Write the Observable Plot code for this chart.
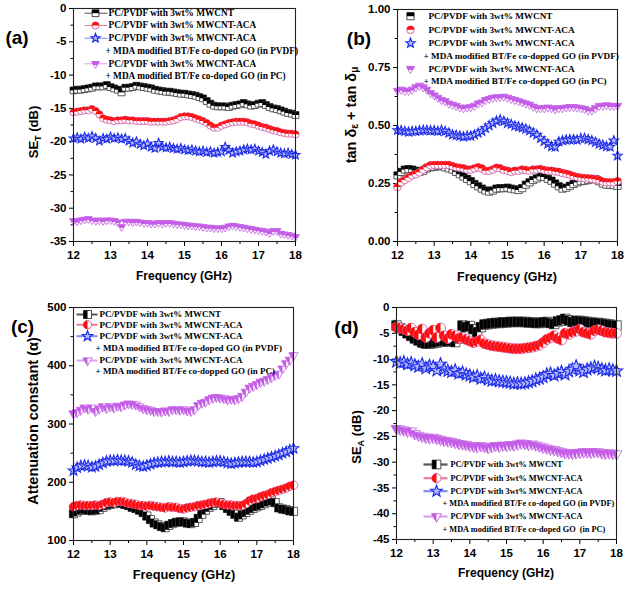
<!DOCTYPE html>
<html><head><meta charset="utf-8">
<script src="https://cdn.jsdelivr.net/npm/d3@7"></script>
<script src="https://cdn.jsdelivr.net/npm/@observablehq/plot@0.6"></script>
<style>
body{margin:0;background:#fff;}
#root{position:relative;width:627px;height:590px;overflow:hidden;font-family:"Liberation Sans",Arial,sans-serif;background:#fff;}
.pnl{position:absolute;}
.lbl{position:absolute;transform:translate(-50%,-50%);white-space:nowrap;font-weight:bold;color:#000;line-height:1;}
.rot{transform:translate(-50%,-50%) rotate(-90deg);}
.lbl sub{font-size:70%;vertical-align:-0.25em;}
</style></head><body><div id="root"></div><script>
// ---------- data ----------
const freqGHz = [12.0,12.1,12.2,12.3,12.4,12.5,12.6,12.7,12.8,12.9,13.0,13.1,13.2,13.3,13.4,13.5,13.6,13.7,13.8,13.9,14.0,14.1,14.2,14.3,14.4,14.5,14.6,14.7,14.8,14.9,15.0,15.1,15.2,15.3,15.4,15.5,15.6,15.7,15.8,15.9,16.0,16.1,16.2,16.3,16.4,16.5,16.6,16.7,16.8,16.9,17.0,17.1,17.2,17.3,17.4,17.5,17.6,17.7,17.8,17.9,18.0];

// (a) SE_T (dB)
const aMWCNT = [-12.3,-12.2,-12.2,-12.1,-12.0,-11.9,-11.7,-11.7,-11.7,-11.5,-11.8,-12.0,-12.2,-12.6,-11.9,-11.9,-11.8,-11.6,-11.7,-11.8,-11.9,-12.0,-12.2,-12.3,-12.4,-12.5,-12.5,-12.6,-12.7,-12.8,-12.8,-12.9,-13.0,-13.1,-13.3,-13.5,-13.9,-14.3,-14.6,-14.7,-14.7,-14.7,-14.8,-14.6,-14.5,-14.4,-14.2,-14.4,-14.6,-14.5,-14.3,-14.2,-14.5,-14.8,-15.0,-15.1,-15.3,-15.5,-15.7,-15.8,-16.0];
const aACA = [-15.6,-15.5,-15.4,-15.3,-15.3,-15.1,-15.4,-15.9,-16.5,-16.7,-16.8,-16.9,-16.8,-16.8,-16.7,-16.8,-16.8,-16.9,-16.9,-16.9,-16.9,-17.0,-17.0,-17.0,-17.0,-17.0,-16.9,-16.8,-16.6,-16.3,-16.2,-16.2,-16.3,-16.5,-16.7,-16.9,-17.2,-17.6,-17.9,-17.9,-17.6,-17.4,-17.2,-17.1,-17.0,-17.0,-17.0,-17.1,-17.3,-17.4,-17.6,-17.8,-17.9,-18.1,-18.3,-18.4,-18.6,-18.7,-18.8,-18.8,-18.9];
const aPVDF = [-19.5,-19.4,-19.6,-19.3,-19.5,-19.2,-19.5,-19.9,-19.5,-19.6,-19.3,-19.5,-19.4,-19.6,-19.5,-19.9,-20.2,-20.0,-20.4,-20.6,-20.3,-20.8,-21.0,-20.2,-20.8,-20.9,-20.8,-21.0,-21.1,-21.0,-21.2,-21.3,-21.2,-21.4,-21.5,-21.4,-21.6,-21.5,-21.7,-21.6,-21.5,-20.8,-21.3,-21.7,-21.5,-21.4,-21.2,-21.1,-21.2,-21.1,-21.4,-21.6,-21.9,-21.4,-21.2,-21.5,-21.7,-21.8,-21.7,-21.9,-22.0];
const aPC = [-31.9,-32.0,-31.8,-31.7,-31.6,-31.8,-31.9,-31.8,-31.9,-31.8,-31.8,-31.9,-32.1,-32.8,-32.0,-32.0,-32.1,-32.0,-32.1,-32.2,-32.2,-32.3,-32.3,-32.2,-32.3,-32.2,-32.2,-32.3,-32.4,-32.4,-32.5,-32.6,-32.6,-32.7,-32.7,-32.8,-32.9,-32.9,-33.0,-33.0,-33.0,-32.9,-32.7,-32.6,-32.7,-32.8,-32.9,-33.0,-33.1,-33.2,-33.3,-33.4,-33.5,-33.7,-33.4,-33.4,-33.8,-33.9,-34.0,-34.1,-34.3];

// (b) tan δε + tan δμ
const bMWCNT = [0.285,0.30,0.31,0.312,0.31,0.305,0.30,0.305,0.315,0.32,0.322,0.325,0.325,0.32,0.315,0.31,0.30,0.29,0.28,0.27,0.26,0.248,0.238,0.228,0.22,0.215,0.22,0.228,0.23,0.23,0.232,0.228,0.225,0.222,0.23,0.245,0.255,0.265,0.272,0.28,0.278,0.27,0.262,0.25,0.238,0.228,0.232,0.24,0.248,0.255,0.26,0.262,0.265,0.27,0.268,0.26,0.25,0.245,0.245,0.243,0.24];
const bACA = [0.235,0.255,0.265,0.275,0.285,0.29,0.298,0.31,0.32,0.328,0.33,0.33,0.33,0.33,0.33,0.325,0.32,0.318,0.315,0.31,0.31,0.315,0.32,0.315,0.305,0.305,0.31,0.318,0.315,0.308,0.305,0.30,0.305,0.305,0.31,0.308,0.305,0.31,0.31,0.312,0.308,0.305,0.305,0.302,0.30,0.295,0.292,0.288,0.282,0.278,0.275,0.273,0.272,0.27,0.268,0.265,0.258,0.255,0.255,0.255,0.26];
const bPVDF = [0.48,0.478,0.475,0.472,0.475,0.475,0.478,0.48,0.48,0.478,0.478,0.475,0.48,0.475,0.468,0.46,0.458,0.455,0.452,0.455,0.455,0.46,0.468,0.475,0.488,0.50,0.51,0.52,0.525,0.518,0.51,0.505,0.498,0.495,0.49,0.485,0.478,0.468,0.46,0.445,0.432,0.42,0.41,0.408,0.43,0.435,0.438,0.44,0.44,0.438,0.445,0.445,0.44,0.435,0.428,0.42,0.415,0.41,0.408,0.435,0.37];
const bPC = [0.65,0.655,0.65,0.65,0.655,0.665,0.672,0.665,0.655,0.64,0.63,0.62,0.61,0.605,0.595,0.59,0.585,0.578,0.575,0.578,0.58,0.585,0.595,0.60,0.61,0.615,0.62,0.622,0.622,0.625,0.62,0.615,0.61,0.605,0.60,0.595,0.59,0.582,0.575,0.575,0.575,0.578,0.575,0.57,0.575,0.575,0.578,0.58,0.58,0.578,0.575,0.572,0.565,0.565,0.575,0.585,0.585,0.588,0.585,0.585,0.585];

// (c) attenuation constant α
const cMWCNT = [146,149,152,153,152,151,152,153,157,160,162,163,165,164,162,160,157,155,152,148,142,136,130,127,124,122,126,129,131,132,132,130,129,131,138,145,152,157,160,164,165,160,155,150,145,140,144,148,152,155,158,160,163,166,168,165,156,154,153,151,150];
const cACA = [158,160,161,160,160,160,161,160,162,165,166,165,167,167,166,164,163,162,160,160,159,160,159,158,157,156,158,157,157,155,154,156,157,158,160,161,162,164,165,166,164,162,161,161,160,160,160,163,168,171,172,175,177,179,182,184,186,188,190,193,195];
const cPVDF = [220,225,228,229,228,226,227,230,233,236,237,237,238,237,237,236,234,230,228,227,229,231,233,234,235,235,236,235,235,234,235,236,237,237,236,235,235,234,235,236,236,235,233,232,233,234,235,235,235,234,235,237,239,241,243,245,247,250,252,255,258];
const cPC = [318,320,324,328,326,328,322,326,330,327,330,328,331,330,333,335,334,333,330,327,325,324,322,322,321,323,322,325,325,324,325,323,322,325,332,336,338,342,345,346,345,344,342,343,342,344,348,355,362,365,368,372,374,377,380,384,386,395,404,410,418];

// (d) SE_A (dB)
const dMWCNT = [-3.5,-4.0,-4.5,-5.0,-5.5,-6.0,-6.4,-6.8,-7.0,-7.0,-6.9,-6.8,-6.6,-6.5,-6.6,-6.5,-6.7,-6.0,-3.5,-3.8,-3.6,-4.2,-4.8,-3.8,-3.3,-3.2,-3.1,-3.0,-3.0,-2.9,-2.9,-2.8,-2.8,-2.8,-2.8,-2.8,-2.9,-2.9,-3.0,-3.0,-2.9,-2.8,-3.0,-3.2,-2.7,-2.5,-2.2,-2.5,-2.8,-2.6,-2.6,-2.7,-2.8,-2.9,-3.0,-3.0,-3.1,-3.2,-3.3,-3.4,-3.5];
const dACA = [-3.8,-4.0,-4.2,-4.5,-4.0,-4.8,-5.3,-4.2,-5.8,-5.0,-4.4,-5.8,-4.0,-5.5,-6.0,-5.2,-5.5,-6.0,-5.8,-6.2,-6.5,-6.8,-6.6,-6.3,-7.0,-7.2,-7.4,-7.5,-7.6,-7.7,-7.8,-7.9,-8.0,-8.0,-8.0,-7.9,-7.8,-7.7,-7.5,-7.3,-6.8,-6.2,-5.9,-5.5,-6.0,-6.3,-5.0,-5.2,-4.8,-4.6,-4.2,-4.8,-5.0,-5.2,-4.5,-4.3,-4.5,-4.8,-4.9,-5.0,-5.0];
const dPVDF = [-10.5,-10.8,-10.6,-11.0,-10.8,-11.2,-11.5,-11.0,-11.8,-11.3,-11.5,-12.2,-11.0,-12.0,-12.3,-12.5,-12.2,-12.8,-12.6,-13.0,-13.2,-13.5,-13.3,-13.8,-13.6,-14.0,-14.2,-14.1,-14.3,-14.4,-14.5,-14.6,-14.8,-14.7,-14.8,-14.7,-14.5,-14.3,-14.0,-13.8,-13.5,-13.0,-12.8,-13.2,-12.8,-12.5,-13.0,-12.4,-12.0,-11.4,-12.2,-12.5,-12.0,-11.8,-11.5,-11.7,-12.0,-12.2,-12.0,-12.2,-12.3];
const dPC = [-23.5,-23.6,-23.8,-24.0,-24.0,-24.5,-24.8,-25.0,-25.2,-25.3,-25.2,-25.4,-25.6,-25.8,-25.9,-26.0,-26.2,-26.4,-26.5,-26.6,-26.8,-26.9,-27.0,-26.8,-27.0,-27.2,-27.0,-26.8,-26.9,-26.7,-26.8,-26.6,-26.7,-26.5,-26.3,-26.4,-26.6,-26.5,-26.7,-26.9,-27.1,-27.3,-27.5,-27.6,-27.8,-28.0,-28.2,-28.2,-28.3,-28.2,-28.1,-28.0,-28.0,-28.1,-28.0,-28.0,-28.2,-28.3,-28.2,-28.3,-28.4];

// ticks
const xMajor = [12,13,14,15,16,17,18];
const xMinor = [12.5,13.5,14.5,15.5,16.5,17.5];
const aTicks = [0,-5,-10,-15,-20,-25,-30,-35];
const aMinor = [-2.5,-7.5,-12.5,-17.5,-22.5,-27.5,-32.5];
const bTicks = [0,0.25,0.5,0.75,1];
const bMinor = [0.125,0.375,0.625,0.875];
const cTicks = [100,200,300,400,500];
const cMinor = [150,250,350,450];
const dTicks = [0,-5,-10,-15,-20,-25,-30,-35,-40,-45];
const dMinor = [-2.5,-7.5,-12.5,-17.5,-22.5,-27.5,-32.5,-37.5,-42.5];

// legend labels
const legA = ["PC/PVDF with 3wt% MWCNT","PC/PVDF with 3wt% MWCNT-ACA","PC/PVDF with 3wt% MWCNT-ACA","+ MDA modified BT/Fe co-doped GO (in PVDF)","PC/PVDF with 3wt% MWCNT-ACA","+ MDA modified BT/Fe co-doped GO (in PC)"];
const legB = ["PC/PVDF with 3wt% MWCNT","PC/PVDF with 3wt% MWCNT-ACA","PC/PVDF with 3wt% MWCNT-ACA","+ MDA modified BT/Fe co-dopped GO (in PVDF)","PC/PVDF with 3wt% MWCNT-ACA","+ MDA modified BT/Fe co-dopped GO (in PC)"];
const legC = ["PC/PVDF with 3wt% MWCNT","PC/PVDF with 3wt% MWCNT-ACA","PC/PVDF with 3wt% MWCNT-ACA","+ MDA modified BT/Fe co-doped GO (in PVDF)","PC/PVDF with 3wt% MWCNT-ACA","+ MDA modified BT/Fe co-dopped GO (in PC)"];
const legD = ["PC/PVDF with 3wt% MWCNT","PC/PVDF with 3wt% MWCNT-ACA","PC/PVDF with 3wt% MWCNT-ACA","+ MDA modified BT/Fe co-doped GO (in PVDF)","PC/PVDF with 3wt% MWCNT-ACA","+ MDA modified BT/Fe co-doped GO  (in PC)"];

// ---------- symbols ----------
function sym(shape, part) {
  return {draw(ctx, size) {
    const r = Math.sqrt(size / Math.PI);
    if (shape === "square") {
      const h = r * 0.95;
      if (part === "full") ctx.rect(-h, -h, 2 * h, 2 * h);
      else if (part === "top") ctx.rect(-h, -h, 2 * h, h);
      else ctx.rect(-h, -h, h, 2 * h);
    } else if (shape === "circle") {
      if (part === "full") { ctx.moveTo(r, 0); ctx.arc(0, 0, r, 0, 2 * Math.PI); }
      else if (part === "top") { ctx.moveTo(-r, 0); ctx.arc(0, 0, r, Math.PI, 2 * Math.PI); ctx.closePath(); }
      else { ctx.moveTo(0, r); ctx.arc(0, 0, r, Math.PI / 2, 1.5 * Math.PI); ctx.closePath(); }
    } else if (shape === "tri") {
      const R = r * 1.25, a = R * 0.866, b = R * 0.5, ym = (R - b) / 2;
      if (part === "full") { ctx.moveTo(-a, -b); ctx.lineTo(a, -b); ctx.lineTo(0, R); ctx.closePath(); }
      else if (part === "top") { ctx.moveTo(-a, -b); ctx.lineTo(a, -b); ctx.lineTo(a / 2, ym); ctx.lineTo(-a / 2, ym); ctx.closePath(); }
      else { ctx.moveTo(-a, -b); ctx.lineTo(0, -b); ctx.lineTo(0, R); ctx.closePath(); }
    } else if (shape === "star") {
      const R = r * 1.3;
      for (let k = 0; k < 10; k++) {
        const rad = k % 2 ? R * 0.42 : R, ang = -Math.PI / 2 + k * Math.PI / 5;
        const x = rad * Math.cos(ang), y = rad * Math.sin(ang);
        if (k) ctx.lineTo(x, y); else ctx.moveTo(x, y);
      }
      ctx.closePath();
    }
  }};
}
function hline(w) { return {draw(ctx) { ctx.moveTo(-w, 0); ctx.lineTo(w, 0); }}; }

const C = {black:"#000000", red:"#ff0d0d", blue:"#1f2de6", purple:"#c45ae8"};
function seriesSet(vals, half) {
  return [
    {key:"bk", vals:vals[0], shape:"square", color:C.black, ostroke:"#333", ofill:"white", sw:0.8, line:"#666", half},
    {key:"rd", vals:vals[1], shape:"circle", color:C.red, ostroke:"#d0509a", ofill:"white", sw:0.8, line:"#f07a9a", half},
    {key:"bl", vals:vals[2], shape:"star", color:C.blue, ostroke:C.blue, ofill:"#b4baff", sw:1.1, line:"#7f8cf0", half:null},
    {key:"pu", vals:vals[3], shape:"tri", color:C.purple, ostroke:"#c060e0", ofill:"white", sw:0.8, line:"#d9a0f0", half}
  ];
}

const panels = [
  {pos:[0,0,313,290], m:[73,18,8,49], dom:[-35,0], ticks:aTicks, minor:aMinor, fmt:d=>String(d), legend:legA,
   series:seriesSet([aMWCNT,aACA,aPVDF,aPC],"top"), r:3.6, lineW:0.9,
   leg:{rows:[4.7,17,29.7,43,55.3,68], mx:22, lx:22.5, lw:11.5, lsw:1, tx:35, tx2:32, fs:9.3, r:3.6}},
  {pos:[313,0,314,290], m:[84,10,9,49], dom:[0,1], ticks:bTicks, minor:bMinor, fmt:d3.format(".2f"), legend:legB,
   series:seriesSet([bMWCNT,bACA,bPVDF,bPC],"top"), r:3.8, lineW:0,
   leg:{rows:[6.7,20.3,33.7,46.7,59.3,71.7], mx:13, lx:13, lw:0, lsw:0, tx:31, tx2:26, fs:9.2, r:3.8}},
  {pos:[0,290,313,300], m:[73,20,17,50], dom:[100,500], ticks:cTicks, minor:cMinor, fmt:d=>String(d), legend:legC,
   series:seriesSet([cMWCNT,cACA,cPVDF,cPC],"left"), r:4.3, lineW:1.4,
   leg:{rows:[7,17.3,28.7,40.3,53,63.7], mx:14, lx:13.5, lw:10.5, lsw:2, tx:26, tx2:22, fs:9, r:4.2}},
  {pos:[313,290,314,300], m:[83,11,17,51], dom:[-45,0], ticks:dTicks, minor:dMinor, fmt:d=>String(d), legend:legD,
   series:seriesSet([dMWCNT,dACA,dPVDF,dPC],"left"), r:5, lineW:1.6,
   leg:{rows:[157,170.7,183.7,196.3,209,221.7], mx:40, lx:39, lw:12, lsw:2.2, tx:54, tx2:46, fs:8.3, r:4.6}}
];

const root = document.getElementById("root");

for (const p of panels) {
  const keys = [], syms = [], rows = [];
  for (const s of p.series) {
    keys.push(s.key + "o"); syms.push(sym(s.shape, "full"));
    if (s.half) { keys.push(s.key + "h"); syms.push(sym(s.shape, s.half)); }
    s.vals.forEach((v, i) => {
      rows.push({x: freqGHz[i], y: v, k: s.key + "o", f: s.ofill, s: s.ostroke, w: s.sw});
      if (s.half) rows.push({x: freqGHz[i], y: v, k: s.key + "h", f: s.color, s: "none", w: 0});
    });
  }
  const marks = [
    Plot.axisX({ticks: xMajor, tickSize: 5, tickPadding: 4, tickFormat: d => String(d), label: null}),
    Plot.axisX({ticks: xMinor, tickSize: 3, tickFormat: () => "", label: null}),
    Plot.axisY({ticks: p.ticks, tickSize: 4, tickPadding: 3, tickFormat: p.fmt, label: null}),
    Plot.axisY({ticks: p.minor, tickSize: 2.5, tickFormat: () => "", label: null})
  ];
  if (p.lineW) for (const s of p.series) {
    marks.push(Plot.line(s.vals.map((v, i) => ({x: freqGHz[i], y: v})), {x: "x", y: "y", stroke: s.line, strokeWidth: p.lineW}));
  }
  marks.push(Plot.dot(rows, {x: "x", y: "y", symbol: "k", fill: "f", stroke: "s", strokeWidth: "w", r: p.r}));
  marks.push(Plot.frame({stroke: "#222", strokeWidth: 1.1}));
  // legend
  const L = p.leg;
  const markerRows = [0, 1, 2, null, 3, null];
  p.legend.forEach((txt, j) => {
    const si = markerRows[j], dy = L.rows[j];
    if (si !== null) {
      const s = p.series[si];
      if (L.lw) marks.push(Plot.dot([0], {frameAnchor: "top-left", dx: L.lx, dy, symbol: hline(L.lw), stroke: s.line === "#666" ? "#555" : s.line, strokeWidth: L.lsw, fill: "none", r: 1}));
      marks.push(Plot.dot([0], {frameAnchor: "top-left", dx: L.mx, dy, symbol: sym(s.shape, "full"), fill: s.ofill, stroke: s.ostroke, strokeWidth: s.sw + 0.1, r: L.r}));
      if (s.half) marks.push(Plot.dot([0], {frameAnchor: "top-left", dx: L.mx, dy, symbol: sym(s.shape, s.half), fill: s.color, stroke: "none", r: L.r}));
    }
    marks.push(Plot.text([txt], {frameAnchor: "top-left", dx: si !== null ? L.tx : L.tx2, dy, text: d => d, textAnchor: "start", lineAnchor: "middle",
      fontFamily: "'Liberation Serif','Times New Roman',serif", fontWeight: "bold", fontSize: L.fs, fill: "#000"}));
  });

  const chart = Plot.plot({
    width: p.pos[2], height: p.pos[3],
    marginLeft: p.m[0], marginRight: p.m[1], marginTop: p.m[2], marginBottom: p.m[3],
    x: {domain: [12, 18], label: null},
    y: {domain: p.dom, label: null},
    symbol: {domain: keys, range: syms},
    color: {type: "identity"},
    style: {fontFamily: "'Liberation Sans',Arial,sans-serif", fontSize: "11.5px", fontWeight: "bold", color: "#000", background: "transparent", overflow: "visible"},
    marks
  });
  const wrap = document.createElement("div");
  wrap.className = "pnl";
  wrap.style.left = p.pos[0] + "px"; wrap.style.top = p.pos[1] + "px";
  wrap.appendChild(chart);
  root.appendChild(wrap);
}

// titles / labels
const labels = [
  {html:"(a)", x:17, y:37, fs:19},
  {html:"(b)", x:359, y:38, fs:19},
  {html:"(c)", x:22.5, y:326, fs:19},
  {html:"(d)", x:346.5, y:326.5, fs:19},
  {html:"Frequency (GHz)", x:184, y:276, fs:12},
  {html:"Frequency (GHz)", x:507, y:277, fs:12.5},
  {html:"Frequency (GHz)", x:184, y:575, fs:12.8},
  {html:"Frequency (GHz)", x:506, y:573, fs:12},
  {html:"SE<sub>T</sub> (dB)", x:35, y:132, fs:13, rot:true},
  {html:"tan δ<sub>ε</sub> + tan δ<sub>μ</sub>", x:352, y:115, fs:14.5, rot:true},
  {html:"Attenuation constant (α)", x:33, y:421, fs:14.5, rot:true},
  {html:"SE<sub>A</sub> (dB)", x:358, y:437, fs:13, rot:true}
];
for (const l of labels) {
  const d = document.createElement("div");
  d.className = "lbl" + (l.rot ? " rot" : "");
  d.style.left = l.x + "px"; d.style.top = l.y + "px"; d.style.fontSize = l.fs + "px";
  d.innerHTML = l.html;
  root.appendChild(d);
}
</script></body></html>
